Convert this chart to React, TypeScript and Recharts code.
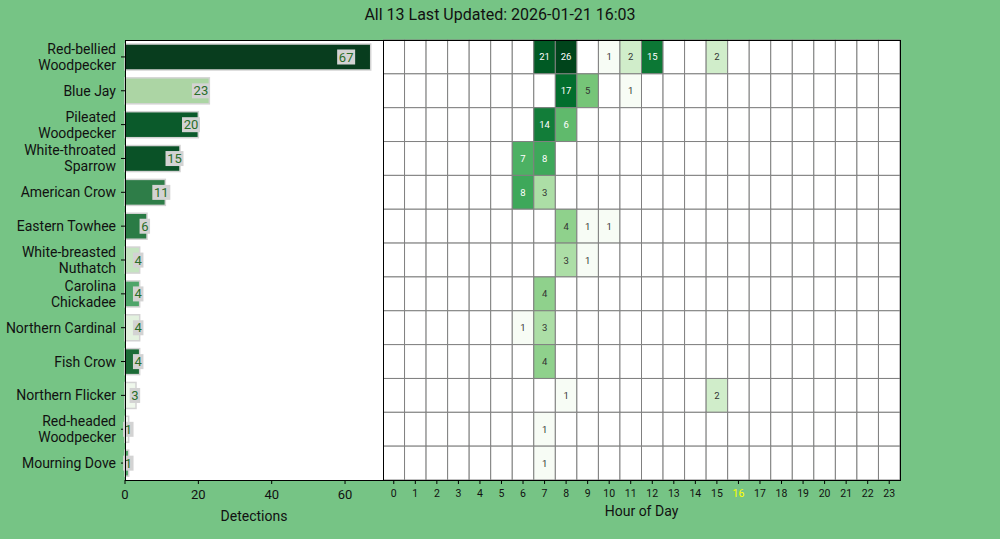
import { Bar, BarChart, LabelList, Scatter, ScatterChart, XAxis, YAxis } from 'recharts';

const species = [
  'Red-bellied Woodpecker',
  'Blue Jay',
  'Pileated Woodpecker',
  'White-throated Sparrow',
  'American Crow',
  'Eastern Towhee',
  'White-breasted Nuthatch',
  'Carolina Chickadee',
  'Northern Cardinal',
  'Fish Crow',
  'Northern Flicker',
  'Red-headed Woodpecker',
  'Mourning Dove',
];

const detections = [67, 23, 20, 15, 11, 6, 4, 4, 4, 4, 3, 1, 1];

const barColors = [
  '#083d1e', '#acd5a4', '#0b5a2b', '#0a5227', '#2e7d48', '#2a7b45', '#c5e4c1',
  '#4fa56a', '#e3f2df', '#1c6b37', '#eff8ec', '#f6fbf4', '#4ea366',
];

const detectionTicks = [0, 20, 40, 60];
const hourTicks = [0, 1, 2, 3, 4, 5, 6, 7, 8, 9, 10, 11, 12, 13, 14, 15, 16, 17, 18, 19, 20, 21, 22, 23];
const currentHour = 16;

// counts per hour (0..23), one row per species
const hourlyCounts = [
  [0, 0, 0, 0, 0, 0, 0, 21, 26, 0, 1, 2, 15, 0, 0, 2, 0, 0, 0, 0, 0, 0, 0, 0],
  [0, 0, 0, 0, 0, 0, 0, 0, 17, 5, 0, 1, 0, 0, 0, 0, 0, 0, 0, 0, 0, 0, 0, 0],
  [0, 0, 0, 0, 0, 0, 0, 14, 6, 0, 0, 0, 0, 0, 0, 0, 0, 0, 0, 0, 0, 0, 0, 0],
  [0, 0, 0, 0, 0, 0, 7, 8, 0, 0, 0, 0, 0, 0, 0, 0, 0, 0, 0, 0, 0, 0, 0, 0],
  [0, 0, 0, 0, 0, 0, 8, 3, 0, 0, 0, 0, 0, 0, 0, 0, 0, 0, 0, 0, 0, 0, 0, 0],
  [0, 0, 0, 0, 0, 0, 0, 0, 4, 1, 1, 0, 0, 0, 0, 0, 0, 0, 0, 0, 0, 0, 0, 0],
  [0, 0, 0, 0, 0, 0, 0, 0, 3, 1, 0, 0, 0, 0, 0, 0, 0, 0, 0, 0, 0, 0, 0, 0],
  [0, 0, 0, 0, 0, 0, 0, 4, 0, 0, 0, 0, 0, 0, 0, 0, 0, 0, 0, 0, 0, 0, 0, 0],
  [0, 0, 0, 0, 0, 0, 1, 3, 0, 0, 0, 0, 0, 0, 0, 0, 0, 0, 0, 0, 0, 0, 0, 0],
  [0, 0, 0, 0, 0, 0, 0, 4, 0, 0, 0, 0, 0, 0, 0, 0, 0, 0, 0, 0, 0, 0, 0, 0],
  [0, 0, 0, 0, 0, 0, 0, 0, 1, 0, 0, 0, 0, 0, 0, 2, 0, 0, 0, 0, 0, 0, 0, 0],
  [0, 0, 0, 0, 0, 0, 0, 1, 0, 0, 0, 0, 0, 0, 0, 0, 0, 0, 0, 0, 0, 0, 0, 0],
  [0, 0, 0, 0, 0, 0, 0, 1, 0, 0, 0, 0, 0, 0, 0, 0, 0, 0, 0, 0, 0, 0, 0, 0],
];

const BG = '#76c485';
const FONT = 'Roboto, "DejaVu Sans", sans-serif';

const PLOT_TOP = 40;
const PLOT_H = 440;
const LEFT_X = 125;
const MID_X = 383;
const RIGHT_X = 900;

const barData = species.map((name, i) => ({ name, count: detections[i], color: barColors[i] }));

const heatData = hourlyCounts.flatMap((row, r) => row.map((count, h) => ({ hour: h, row: r, count })));
const maxCount = Math.max(...hourlyCounts.flat());

const greens = ['#f7fcf5', '#e5f5e0', '#c7e9c0', '#a1d99b', '#74c476', '#41ab5d', '#238b45', '#006d2c', '#00441b'];

function hexToRgb(h: string) {
  return [1, 3, 5].map((i) => parseInt(h.slice(i, i + 2), 16));
}

function greenAt(t: number) {
  const p = Math.max(0, Math.min(1, t)) * (greens.length - 1);
  const i = Math.min(Math.floor(p), greens.length - 2);
  const f = p - i;
  const a = hexToRgb(greens[i]);
  const b = hexToRgb(greens[i + 1]);
  const c = a.map((v, k) => Math.round(v + (b[k] - v) * f));
  return `rgb(${c[0]},${c[1]},${c[2]})`;
}

function logNorm(v: number) {
  return Math.log(v) / Math.log(maxCount);
}

const SpeciesTick = (props: any) => {
  const { x, y, payload } = props;
  const name: string = payload.value;
  const cut = name.indexOf(' ');
  const lines = name.length > 17 && cut > 0 ? [name.slice(0, cut), name.slice(cut + 1)] : [name];
  const lh = 16;
  return (
    <text x={x} y={y} textAnchor="end" fontSize={14} fill="#111" fontFamily={FONT}>
      {lines.map((l, i) => (
        <tspan key={i} x={x} dy={i === 0 ? 5 - ((lines.length - 1) * lh) / 2 : lh}>
          {l}
        </tspan>
      ))}
    </text>
  );
};

const ValueLabel = (props: any) => {
  const { x, y, width, height, value } = props;
  const cx = x + width * 0.9;
  const cy = y + height / 2;
  const w = String(value).length * 7.5 + 3;
  return (
    <g>
      <rect x={cx - w / 2} y={cy - 7.5} width={w} height={15} fill="#d3d3d3" />
      <text x={cx} y={cy + 4.5} textAnchor="middle" fontSize={13} fill="#2a6e2a" fontFamily={FONT}>
        {value}
      </text>
    </g>
  );
};

const cellW = (RIGHT_X - MID_X) / hourTicks.length;
const cellH = PLOT_H / species.length;

const HeatCell = (props: any) => {
  const { cx, cy, payload } = props;
  const v: number = payload.count;
  const t = v > 0 ? logNorm(v) : 0;
  const fill = v > 0 ? greenAt(t) : '#ffffff';
  return (
    <g>
      <rect x={cx - cellW / 2} y={cy - cellH / 2} width={cellW} height={cellH} fill={fill} stroke="#808080" strokeWidth={1} />
      {v > 0 && (
        <text x={cx} y={cy + 3.5} textAnchor="middle" fontSize={9.5} fill={t > 0.52 ? '#ffffff' : '#333333'} fontFamily={FONT}>
          {v}
        </text>
      )}
    </g>
  );
};

const HourTick = (props: any) => {
  const { x, y, payload } = props;
  return (
    <text x={x} y={y + 11} textAnchor="middle" fontSize={10.5} fontFamily={FONT} fill={payload.value === currentHour ? '#ffff00' : '#111'}>
      {payload.value}
    </text>
  );
};

const DetTick = (props: any) => {
  const { x, y, payload } = props;
  return (
    <text x={x} y={y + 13} textAnchor="middle" fontSize={13} fontFamily={FONT} fill="#111">
      {payload.value}
    </text>
  );
};

export default function App() {
  return (
    <div style={{ position: 'absolute', left: 0, top: 0, width: 1000, height: 539, background: BG, fontFamily: FONT, overflow: 'hidden' }}>
      <div style={{ position: 'absolute', top: 5, left: 0, width: 1000, textAlign: 'center', fontSize: 16, color: '#111' }}>
        All 13 Last Updated: 2026-01-21 16:03
      </div>

      <div style={{ position: 'absolute', left: LEFT_X, top: PLOT_TOP, width: MID_X - LEFT_X, height: PLOT_H, background: '#fff' }} />

      <div style={{ position: 'absolute', left: 0, top: 0 }}>
        <BarChart
          width={MID_X + 1}
          height={539}
          data={barData}
          layout="vertical"
          margin={{ top: PLOT_TOP, right: 1, bottom: 0, left: 0 }}
          barCategoryGap="20%"
        >
          <XAxis
            type="number"
            domain={[0, 70.35]}
            ticks={detectionTicks}
            height={539 - PLOT_TOP - PLOT_H}
            axisLine={false}
            tickLine={{ stroke: '#000' }}
            tickSize={4}
            tick={<DetTick />}
            label={{ value: 'Detections', position: 'insideBottom', offset: 18, fontSize: 14, fill: '#111', fontFamily: FONT }}
          />
          <YAxis
            type="category"
            dataKey="name"
            width={LEFT_X}
            axisLine={false}
            tickLine={{ stroke: '#000' }}
            tickSize={4}
            tickMargin={5}
            interval={0}
            tick={<SpeciesTick />}
          />
          <Bar
            dataKey="count"
            isAnimationActive={false}
            barSize={26}
            shape={(p: any) => (
              <rect x={p.x} y={p.y} width={p.width} height={p.height} fill={p.payload.color} stroke="#d3d3d3" strokeWidth={1.5} />
            )}
          >
            <LabelList dataKey="count" content={<ValueLabel />} />
          </Bar>
        </BarChart>
      </div>

      <div style={{ position: 'absolute', left: MID_X, top: 0 }}>
        <ScatterChart width={1000 - MID_X} height={539} margin={{ top: PLOT_TOP, right: 1000 - RIGHT_X, bottom: 0, left: 0 }}>
          <XAxis
            type="number"
            dataKey="hour"
            domain={[-0.5, 23.5]}
            ticks={hourTicks}
            interval={0}
            height={539 - PLOT_TOP - PLOT_H}
            axisLine={false}
            tickLine={{ stroke: '#000' }}
            tickSize={4}
            tick={<HourTick />}
            label={{ value: 'Hour of Day', position: 'insideBottom', offset: 23, fontSize: 14, fill: '#111', fontFamily: FONT }}
          />
          <YAxis type="number" dataKey="row" domain={[-0.5, 12.5]} reversed hide />
          <Scatter data={heatData} isAnimationActive={false} shape={<HeatCell />} />
        </ScatterChart>
      </div>

      <div style={{ position: 'absolute', left: LEFT_X, top: PLOT_TOP, width: MID_X - LEFT_X + 1, height: PLOT_H + 1, border: '1px solid #000', boxSizing: 'border-box', pointerEvents: 'none', marginLeft: -0.5 }} />
      <div style={{ position: 'absolute', left: MID_X, top: PLOT_TOP, width: RIGHT_X - MID_X + 1, height: PLOT_H + 1, border: '1px solid #000', boxSizing: 'border-box', pointerEvents: 'none' }} />
    </div>
  );
}
